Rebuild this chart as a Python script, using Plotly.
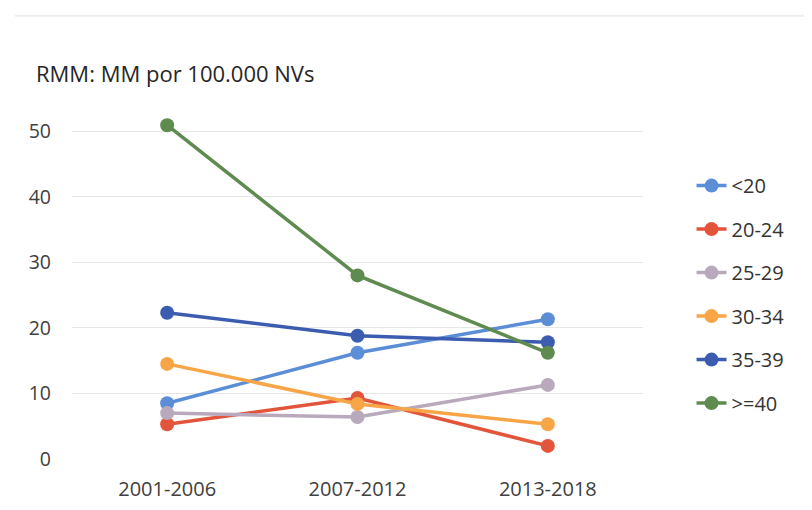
import plotly.graph_objects as go

categories = ["2001-2006", "2007-2012", "2013-2018"]
series_names = ["<20", "20-24", "25-29", "30-34", "35-39", ">=40"]
v_lt20 = [8.5, 16.2, 21.3]
v_20_24 = [5.3, 9.3, 2.0]
v_25_29 = [7.0, 6.4, 11.3]
v_30_34 = [14.5, 8.4, 5.3]
v_35_39 = [22.3, 18.8, 17.8]
v_ge40 = [50.9, 28.0, 16.2]
values = [v_lt20, v_20_24, v_25_29, v_30_34, v_35_39, v_ge40]
colors = ["#5B8ED6", "#E2553A", "#B8A9BC", "#F8A548", "#3C5CAF", "#5F8A50"]
y_ticks = [0, 10, 20, 30, 40, 50]

fig = go.Figure()
for i, (name, vals, col) in enumerate(zip(series_names, values, colors)):
    fig.add_trace(go.Scatter(
        x=categories, y=vals, name=name, mode="lines+markers",
        line=dict(color=col, width=3.5),
        marker=dict(color=col, size=14),
        legendgroup=f"g{i}", cliponaxis=False,
    ))

fig.update_layout(
    width=812, height=510,
    margin=dict(l=64, r=177, t=110, b=59),
    paper_bgcolor="white", plot_bgcolor="white",
    font=dict(family="Open Sans, Noto Sans, sans-serif", size=20, color="#404040"),
    showlegend=True,
    legend=dict(x=1.085, y=0.859, xanchor="left", yanchor="top",
                font=dict(size=20, color="#333333"), tracegroupgap=14.5,
                bgcolor="rgba(0,0,0,0)"),
    annotations=[dict(text="RMM: MM por 100.000 NVs", xref="paper", yref="paper",
                      x=-0.066, y=1.132, xanchor="left", yanchor="middle",
                      showarrow=False, font=dict(size=22, color="#262626"))],
    shapes=[dict(type="line", xref="paper", yref="paper", x0=-0.1, x1=1.31,
                 y0=1.30, y1=1.30, line=dict(color="#EDEDED", width=2))],
)
fig.update_xaxes(type="category", range=[-0.5, 2.5], showgrid=False, showline=False,
                 zeroline=False, ticks="", ticklabelstandoff=16,
                 tickfont=dict(size=20, color="#404040"))
fig.update_yaxes(range=[0, 52], tickvals=y_ticks, showgrid=True, gridcolor="#E6E6E6",
                 gridwidth=1, zeroline=False, showline=False, ticks="",
                 ticklabelstandoff=20, tickfont=dict(size=19.5, color="#404040"))

fig.write_html("out.html")
